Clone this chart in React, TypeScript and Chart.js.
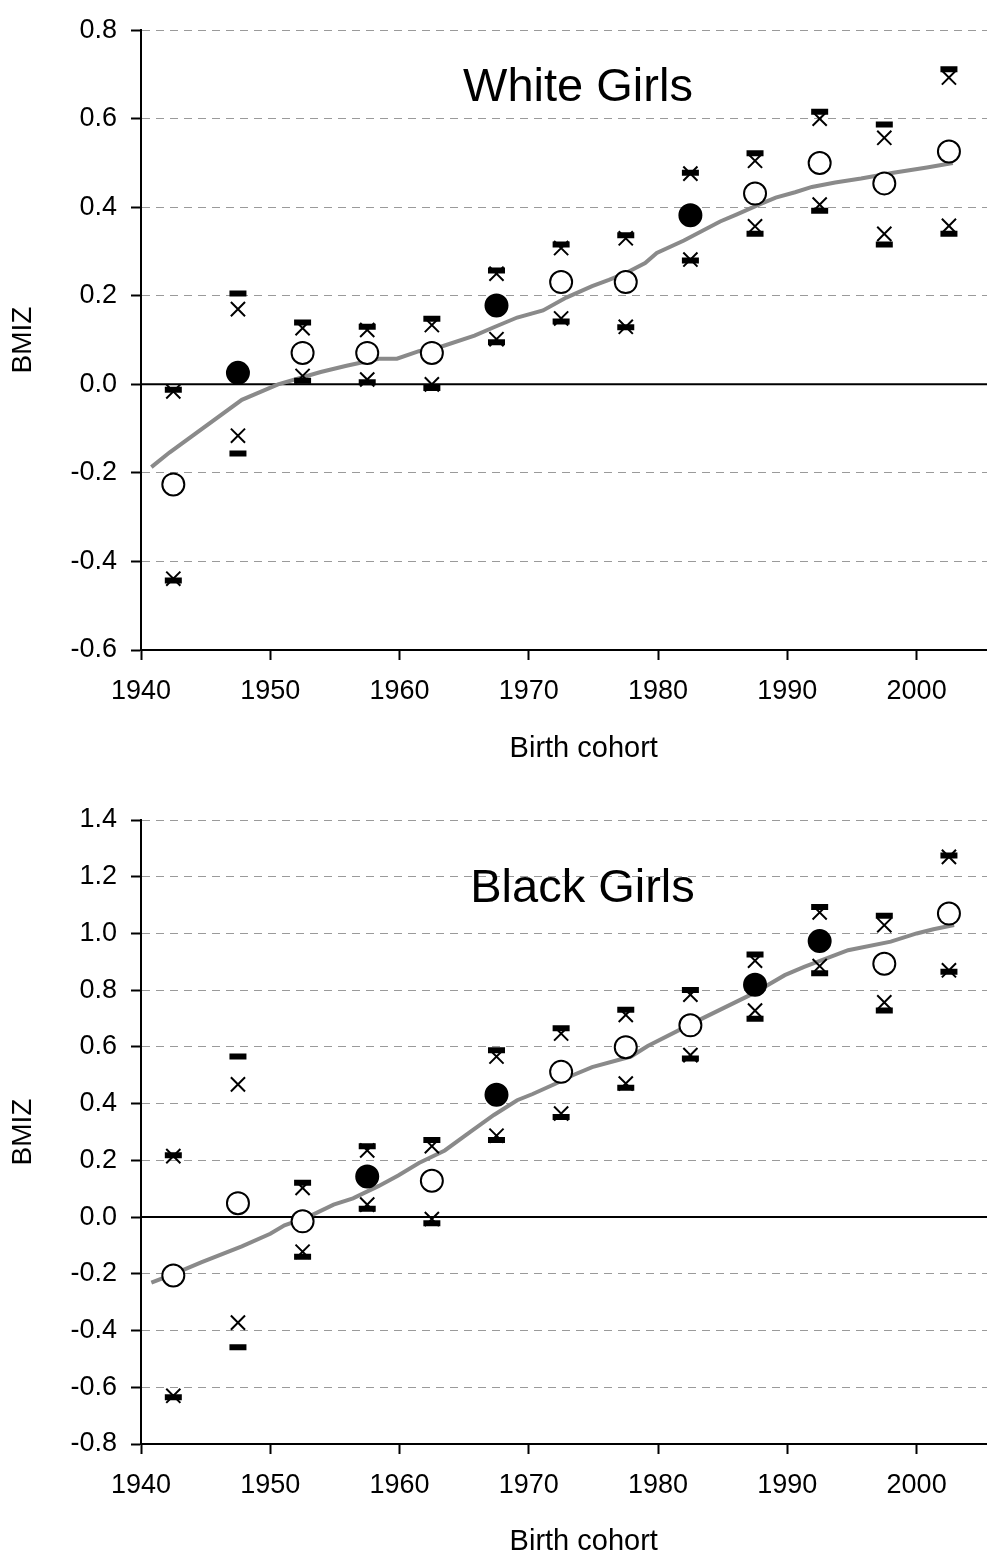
import React, { useEffect, useRef } from "react";
import { Chart, registerables } from "chart.js";

Chart.register(...registerables);

// ---------- data ----------
const cohorts = [1942.5, 1947.5, 1952.5, 1957.5, 1962.5, 1967.5, 1972.5, 1977.5, 1982.5, 1987.5, 1992.5, 1997.5, 2002.5];
const xTickYears = [1940, 1950, 1960, 1970, 1980, 1990, 2000];
const whiteYTicks = [-0.6, -0.4, -0.2, 0, 0.2, 0.4, 0.6, 0.8];
const blackYTicks = [-0.8, -0.6, -0.4, -0.2, 0, 0.2, 0.4, 0.6, 0.8, 1.0, 1.2, 1.4];

// White girls
const whiteMean = [-0.226, 0.026, 0.071, 0.071, 0.071, 0.178, 0.231, 0.231, 0.382, 0.431, 0.5, 0.454, 0.526];
const whiteFilled = [false, true, false, false, false, true, false, false, true, false, false, false, false];
const whiteCrossUpper = [-0.016, 0.17, 0.127, 0.123, 0.134, 0.25, 0.308, 0.33, 0.476, 0.505, 0.6, 0.557, 0.693];
const whiteDashUpper = [-0.012, 0.205, 0.14, 0.13, 0.148, 0.257, 0.316, 0.337, 0.478, 0.522, 0.616, 0.587, 0.712];
const whiteCrossLower = [-0.439, -0.116, 0.019, 0.011, 0.0, 0.102, 0.149, 0.13, 0.282, 0.357, 0.406, 0.34, 0.358];
const whiteDashLower = [-0.443, -0.156, 0.008, 0.005, -0.008, 0.095, 0.142, 0.129, 0.28, 0.34, 0.392, 0.316, 0.34];
const whiteTrendYears = [1940.8, 1942.2, 1947.8, 1950.6, 1953.9, 1955.9, 1958.4, 1959.8, 1961.5, 1963.2, 1965.8, 1967.3, 1969.1, 1971.1, 1972.9, 1974.9, 1976.2, 1977.4, 1979.0, 1979.9, 1982.0, 1984.8, 1986.1, 1987.8, 1989.1, 1990.6, 1991.9, 1993.7, 1995.7, 1998.2, 2000.8, 2002.8];
const whiteTrendValues = [-0.187, -0.154, -0.035, 0.0, 0.028, 0.042, 0.058, 0.058, 0.075, 0.085, 0.11, 0.129, 0.151, 0.167, 0.196, 0.222, 0.236, 0.25, 0.274, 0.297, 0.325, 0.368, 0.384, 0.406, 0.422, 0.434, 0.446, 0.456, 0.465, 0.478, 0.49, 0.5];

// Black girls
const blackMean = [-0.206, 0.049, -0.015, 0.143, 0.128, 0.431, 0.512, 0.599, 0.676, 0.819, 0.973, 0.893, 1.07];
const blackFilled = [false, false, false, true, false, true, false, false, false, true, true, false, false];
const blackCrossUpper = [0.215, 0.468, 0.103, 0.235, 0.25, 0.566, 0.647, 0.713, 0.784, 0.904, 1.074, 1.029, 1.27];
const blackDashUpper = [0.218, 0.566, 0.121, 0.25, 0.272, 0.588, 0.666, 0.731, 0.801, 0.926, 1.093, 1.062, 1.275];
const blackCrossLower = [-0.63, -0.372, -0.122, 0.044, -0.007, 0.287, 0.365, 0.471, 0.571, 0.728, 0.885, 0.757, 0.87];
const blackDashLower = [-0.635, -0.459, -0.14, 0.029, -0.022, 0.272, 0.353, 0.456, 0.559, 0.699, 0.86, 0.728, 0.865];
const blackTrendYears = [1940.8, 1942.5, 1944.7, 1947.8, 1950.0, 1951.1, 1952.9, 1954.9, 1956.4, 1958.4, 1959.9, 1961.5, 1963.5, 1965.5, 1967.3, 1969.1, 1970.3, 1972.1, 1973.4, 1974.9, 1977.9, 1979.2, 1983.0, 1987.3, 1989.8, 1991.3, 1994.7, 1998.0, 2000.0, 2001.3, 2002.9];
const blackTrendValues = [-0.231, -0.201, -0.159, -0.103, -0.059, -0.029, 0.0, 0.044, 0.066, 0.11, 0.147, 0.191, 0.235, 0.301, 0.36, 0.412, 0.434, 0.471, 0.5, 0.529, 0.566, 0.603, 0.691, 0.787, 0.853, 0.882, 0.941, 0.971, 1.0, 1.015, 1.03];

// ---------- plugins ----------
const FONT = '"Liberation Sans", Arial, Helvetica, sans-serif';

const zeroLinePlugin = {
  id: "zeroLine",
  beforeDatasetsDraw(chart: any) {
    const { ctx, chartArea } = chart;
    const y = chart.scales.y.getPixelForValue(0);
    ctx.save();
    ctx.strokeStyle = "#000";
    ctx.lineWidth = 2;
    ctx.beginPath();
    ctx.moveTo(chartArea.left, y);
    ctx.lineTo(chartArea.right, y);
    ctx.stroke();
    ctx.restore();
  },
};

const panelTitlePlugin = {
  id: "panelTitle",
  afterDatasetsDraw(chart: any, _args: any, opts: any) {
    const { ctx } = chart;
    ctx.save();
    ctx.font = `47px ${FONT}`;
    ctx.fillStyle = "#000";
    ctx.textAlign = "center";
    ctx.textBaseline = "alphabetic";
    ctx.fillText(opts.text, opts.x, opts.y);
    ctx.restore();
  },
};

interface PanelProps {
  top: number;
  height: number;
  padTop: number;
  xAxisHeight: number;
  xTitlePad: number;
  yMin: number;
  yMax: number;
  yTicks: number[];
  title: string;
  titleX: number;
  titleY: number;
  mean: number[];
  filled: boolean[];
  crossUpper: number[];
  crossLower: number[];
  dashUpper: number[];
  dashLower: number[];
  trendYears: number[];
  trendValues: number[];
}

const CANVAS_W = 1041;

function Panel(p: PanelProps) {
  const ref = useRef<HTMLCanvasElement | null>(null);

  useEffect(() => {
    if (!ref.current) return;
    Chart.defaults.font.family = FONT;
    Chart.defaults.color = "#000";
    const pts = (vals: number[]) => cohorts.map((x, i) => ({ x, y: vals[i] }));
    const crossStyle = {
      showLine: false,
      pointStyle: "crossRot",
      pointRadius: 10,
      pointBorderWidth: 2,
      pointBorderColor: "#000",
      pointBackgroundColor: "#000",
    };
    const dashStyle = {
      showLine: false,
      pointStyle: "line",
      pointRadius: 8.5,
      pointBorderWidth: 6,
      pointBorderColor: "#000",
      pointBackgroundColor: "#000",
    };
    const chart = new Chart(ref.current, {
      type: "scatter",
      data: {
        datasets: [
          {
            label: "BMIZ",
            data: pts(p.mean),
            showLine: false,
            pointStyle: "circle",
            pointRadius: 11,
            pointBorderWidth: 2,
            pointBorderColor: "#000",
            pointBackgroundColor: p.filled.map((f) => (f ? "#000" : "#fff")),
          },
          { label: "upper (x)", data: pts(p.crossUpper), ...crossStyle },
          { label: "lower (x)", data: pts(p.crossLower), ...crossStyle },
          { label: "upper (dash)", data: pts(p.dashUpper), ...dashStyle },
          { label: "lower (dash)", data: pts(p.dashLower), ...dashStyle },
          {
            label: "trend",
            data: p.trendYears.map((x, i) => ({ x, y: p.trendValues[i] })),
            showLine: true,
            pointRadius: 0,
            borderColor: "#8a8a8a",
            borderWidth: 4,
            tension: 0,
            fill: false,
          },
        ] as any,
      },
      options: {
        responsive: false,
        animation: false,
        devicePixelRatio: 1,
        events: [],
        layout: { padding: { top: p.padTop, left: 0, right: 0, bottom: 0 } },
        plugins: {
          legend: { display: false },
          tooltip: { enabled: false },
          panelTitle: { text: p.title, x: p.titleX, y: p.titleY },
        } as any,
        scales: {
          x: {
            type: "linear",
            min: 1940,
            max: 2008.5,
            afterBuildTicks: (s: any) => {
              s.ticks = xTickYears.map((v) => ({ value: v }));
            },
            afterFit: (s: any) => {
              s.height = p.xAxisHeight;
            },
            ticks: {
              autoSkip: false,
              maxRotation: 0,
              padding: 15,
              color: "#000",
              font: { size: 27, lineHeight: 1.2 },
              callback: (v: any) => String(v),
            },
            grid: {
              display: true,
              drawOnChartArea: false,
              drawTicks: true,
              tickLength: 10,
              tickColor: "#000",
              tickWidth: 2,
            },
            border: { display: true, color: "#000", width: 2 },
            title: {
              display: true,
              text: "Birth cohort",
              color: "#000",
              font: { size: 29, lineHeight: 1 },
              padding: { top: 0, bottom: p.xTitlePad },
            },
          },
          y: {
            type: "linear",
            min: p.yMin,
            max: p.yMax,
            afterBuildTicks: (s: any) => {
              s.ticks = p.yTicks.map((v) => ({ value: v }));
            },
            afterFit: (s: any) => {
              s.width = 141;
            },
            ticks: {
              padding: 14,
              color: "#000",
              font: { size: 27, lineHeight: 1.2 },
              callback: (v: any) => Number(v).toFixed(1),
            },
            grid: {
              display: true,
              color: (c: any) => (c.tick && Math.abs(c.tick.value) < 1e-9 ? "rgba(0,0,0,0)" : "#9a9a9a"),
              lineWidth: 1,
              drawTicks: true,
              tickLength: 10,
              tickColor: "#000",
              tickWidth: 2,
              tickBorderDash: [],
            },
            border: { display: true, color: "#000", width: 2, dash: [8, 6] },
            title: {
              display: true,
              text: "BMIZ",
              color: "#000",
              font: { size: 28, lineHeight: 1 },
              padding: { top: 9, bottom: 0 },
            },
          },
        },
      } as any,
      plugins: [zeroLinePlugin, panelTitlePlugin] as any,
    });
    return () => chart.destroy();
  }, []);

  return (
    <canvas
      ref={ref}
      width={CANVAS_W}
      height={p.height}
      style={{ position: "absolute", left: 0, top: p.top, width: CANVAS_W, height: p.height }}
    />
  );
}

export default function App() {
  return (
    <div
      style={{
        position: "absolute",
        left: 0,
        top: 0,
        width: 987,
        height: 1558,
        overflow: "hidden",
        background: "#fff",
      }}
    >
      <Panel
        top={0}
        height={780}
        padTop={26}
        xAxisHeight={130}
        xTitlePad={17}
        yMin={-0.6}
        yMax={0.8}
        yTicks={whiteYTicks}
        title="White Girls"
        titleX={578}
        titleY={101}
        mean={whiteMean}
        filled={whiteFilled}
        crossUpper={whiteCrossUpper}
        crossLower={whiteCrossLower}
        dashUpper={whiteDashUpper}
        dashLower={whiteDashLower}
        trendYears={whiteTrendYears}
        trendValues={whiteTrendValues}
      />
      <Panel
        top={780}
        height={778}
        padTop={40}
        xAxisHeight={114}
        xTitlePad={1.5}
        yMin={-0.8}
        yMax={1.4}
        yTicks={blackYTicks}
        title="Black Girls"
        titleX={582.5}
        titleY={121.5}
        mean={blackMean}
        filled={blackFilled}
        crossUpper={blackCrossUpper}
        crossLower={blackCrossLower}
        dashUpper={blackDashUpper}
        dashLower={blackDashLower}
        trendYears={blackTrendYears}
        trendValues={blackTrendValues}
      />
    </div>
  );
}
